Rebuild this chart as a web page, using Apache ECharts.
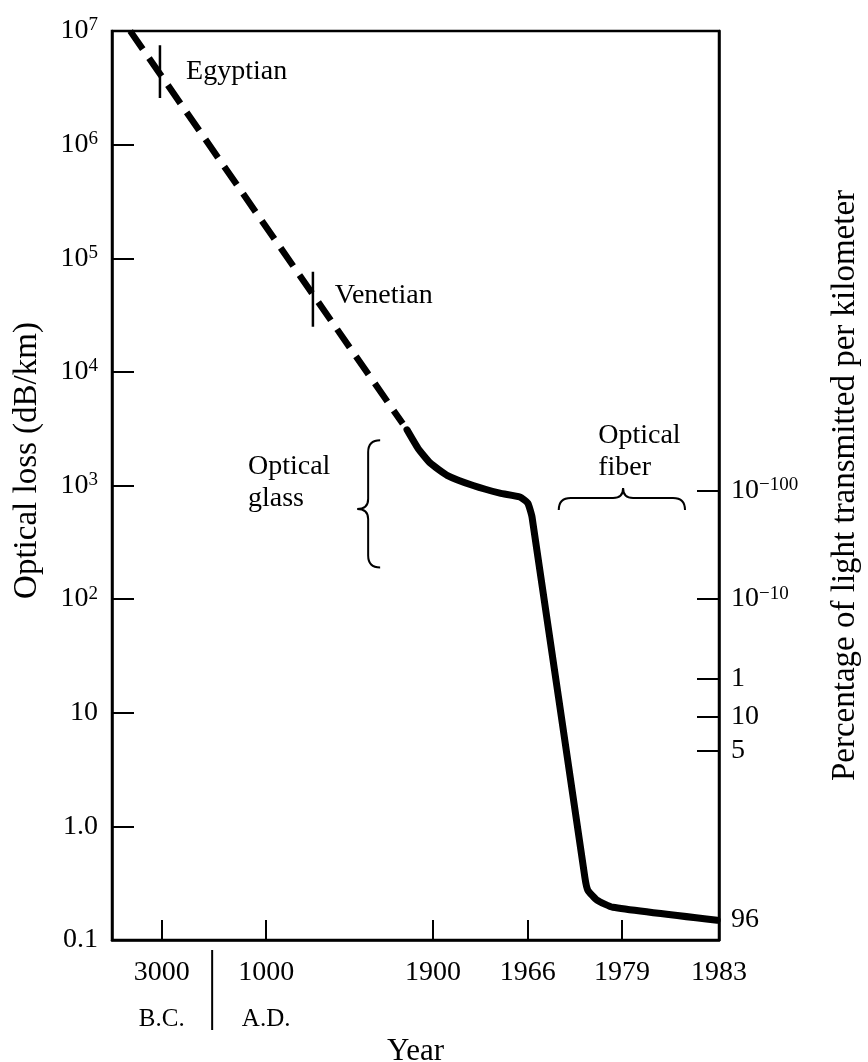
<!DOCTYPE html>
<html>
<head>
<meta charset="utf-8">
<script src="https://cdn.jsdelivr.net/npm/echarts@6/dist/echarts.min.js"></script>
<style>
html, body { margin: 0; background: #fff; }
#chart { width: 868px; height: 1062px; }
</style>
</head>
<body>
<div id="chart"></div>
<script>
// x runs along the (uneven) year axis: 0 = left edge, 100 = 1983
var yearTicks = [8.2, 25.4, 52.9, 68.5, 84.0, 100];
var yearLabels = ['3000', '1000', '1900', '1966', '1979', '1983'];
var eraLabels = ['B.C.', 'A.D.', '', '', '', ''];
var eraSplit = 16.5;

var lossTicks = [1e7, 1e6, 1e5, 1e4, 1e3, 1e2, 10, 1, 0.1];
var lossLabels = ['10^7', '10^6', '10^5', '10^4', '10^3', '10^2', '10', '1.0', '0.1'];

// right axis: % transmitted per km, placed at the matching loss (dB/km)
var transTicks = [900, 100, 20, 9.2, 4.6, 0.15];
var transLabels = ['10^\u2212100', '10^\u221210', '1', '10', '5', '96'];

// early glass (dashed)
var dashX = [3.0, 7.9, 33.1, 47.9];
var dashY = [1e7, 4.2e6, 4.8e4, 3500];

// optical glass then optical fiber (solid)
var solidX = [48.6, 50.4, 52.4, 55.2, 59.5, 63.9, 67.2, 68.5, 69.2, 77.9, 78.4, 79.9, 82.5, 99.7];
var solidY = [3090, 2130, 1580, 1230, 1000, 857, 791, 700, 527, 0.357, 0.274, 0.224, 0.194, 0.149];

// period markers
var egyptX = [7.9, 7.9], egyptY = [7.5e6, 2.57e6];
var venetX = [33.1, 33.1], venetY = [7.6e4, 2.5e4];

// text notes
var noteNames = ['Egyptian', 'Venetian', 'Optical\nglass', 'Optical\nfiber'];
var noteX = [12.2, 36.7, 22.4, 80.1];
var noteY = [4.4e6, 4.7e4, 1070, 1970];

// braces: [spine/left x, right x, top y, bottom y, tip]
var braceGlass = [42.2, 42.2, 2500, 190, 620];
var braceFiber = [73.6, 94.4, 775, 775, 84.2];

var FONT = 'Liberation Serif';

function zip(xs, ys) {
    return xs.map(function (x, i) { return [x, ys[i]]; });
}

function supText(label) {
    var p = label.split('^');
    if (p.length > 1) return '{b|' + p[0] + '}{s|' + p[1] + '}';
    return '{b|' + label + '}';
}

function findIdx(list, v) {
    for (var i = 0; i < list.length; i++) {
        if (Math.abs(Math.log10(list[i]) - Math.log10(v)) < 1e-6) return i;
    }
    return -1;
}

function ink(o) {
    return Object.assign({ fontFamily: FONT, color: '#000' }, o);
}

var richSup = {
    b: ink({ fontSize: 28, lineHeight: 30 }),
    s: ink({ fontSize: 19, verticalAlign: 'top', lineHeight: 19 })
};

var chart = echarts.init(document.getElementById('chart'));

chart.setOption({
    animation: false,
    backgroundColor: '#fff',
    grid: {
        left: 112, right: 149, top: 31, bottom: 122,
        containLabel: false,
        outerBoundsMode: 'none',
        show: true, borderColor: '#000', borderWidth: 2.5, backgroundColor: 'transparent'
    },
    xAxis: {
        type: 'value',
        min: 0,
        max: 100,
        name: 'Year',
        nameLocation: 'middle',
        nameGap: 80,
        nameTextStyle: ink({ fontSize: 31 }),
        axisLine: { lineStyle: { color: '#000', width: 2.5 } },
        axisTick: { inside: true, length: 20, customValues: yearTicks, lineStyle: { color: '#000', width: 2 } },
        axisLabel: {
            customValues: yearTicks,
            margin: 10,
            formatter: function (v) {
                var i = yearTicks.indexOf(v);
                if (i < 0) return '';
                return '{y|' + yearLabels[i] + '}' + (eraLabels[i] ? '\n{e|' + eraLabels[i] + '}' : '');
            },
            rich: {
                y: ink({ fontSize: 28, lineHeight: 46 }),
                e: ink({ fontSize: 25, lineHeight: 46 })
            }
        },
        splitLine: { show: false }
    },
    yAxis: [{
        type: 'log',
        logBase: 10,
        min: 0.1,
        max: 1e7,
        name: 'Optical loss (dB/km)',
        nameLocation: 'middle',
        nameGap: 68,
        nameTextStyle: ink({ fontSize: 33, padding: [0, 0, 0, 50] }),
        axisLine: { show: true, lineStyle: { color: '#000', width: 2.5 } },
        axisTick: { inside: true, length: 22, customValues: lossTicks, lineStyle: { color: '#000', width: 2 } },
        axisLabel: {
            customValues: lossTicks,
            margin: 14,
            formatter: function (v) {
                var i = findIdx(lossTicks, v);
                return i < 0 ? '' : supText(lossLabels[i]);
            },
            rich: richSup
        },
        splitLine: { show: false }
    }, {
        type: 'log',
        logBase: 10,
        min: 0.1,
        max: 1e7,
        position: 'right',
        name: 'Percentage of light transmitted per kilometer',
        nameLocation: 'middle',
        nameGap: 110,
        nameRotate: 90,
        nameTextStyle: ink({ fontSize: 33 }),
        axisLine: { show: true, lineStyle: { color: '#000', width: 2.5 } },
        axisTick: { inside: true, length: 22, customValues: transTicks, lineStyle: { color: '#000', width: 2 } },
        axisLabel: {
            customValues: transTicks,
            margin: 12,
            formatter: function (v) {
                var i = findIdx(transTicks, v);
                return i < 0 ? '' : supText(transLabels[i]);
            },
            rich: richSup
        },
        splitLine: { show: false }
    }],
    series: [{
        name: 'early glass',
        type: 'line',
        data: zip(dashX, dashY),
        symbol: 'none',
        lineStyle: { color: '#000', width: 6.5, type: [22, 11], cap: 'butt' }
    }, {
        name: 'glass and fiber',
        type: 'line',
        data: zip(solidX, solidY),
        symbol: 'none',
        smooth: 0.15,
        lineStyle: { color: '#000', width: 7, join: 'round', cap: 'round' }
    }, {
        name: 'Egyptian mark',
        type: 'line',
        data: zip(egyptX, egyptY),
        symbol: 'none',
        lineStyle: { color: '#000', width: 2.5 }
    }, {
        name: 'Venetian mark',
        type: 'line',
        data: zip(venetX, venetY),
        symbol: 'none',
        lineStyle: { color: '#000', width: 2.5 }
    }, {
        name: 'notes',
        type: 'scatter',
        symbolSize: 0,
        itemStyle: { opacity: 1 },
        data: noteNames.map(function (n, i) { return { name: n, value: [noteX[i], noteY[i]] }; }),
        label: ink({
            show: true,
            position: 'right',
            distance: 0,
            formatter: '{b}',
            fontSize: 28,
            lineHeight: 32,
            align: 'left'
        })
    }, {
        name: 'braces',
        type: 'custom',
        data: [braceGlass.concat([0]), braceFiber.concat([1])],
        renderItem: function (params, api) {
            var horiz = api.value(5) === 1;
            var a = api.coord([api.value(0), api.value(2)]);
            var b = api.coord([api.value(1), api.value(3)]);
            var d;
            if (!horiz) {
                var sx = a[0], y0 = a[1], y1 = b[1];
                var yt = api.coord([api.value(0), api.value(4)])[1];
                d = 'M' + (sx + 12) + ',' + y0 + ' Q' + sx + ',' + y0 + ' ' + sx + ',' + (y0 + 12) +
                    ' L' + sx + ',' + (yt - 10) + ' Q' + sx + ',' + yt + ' ' + (sx - 11) + ',' + yt +
                    ' Q' + sx + ',' + yt + ' ' + sx + ',' + (yt + 10) +
                    ' L' + sx + ',' + (y1 - 12) + ' Q' + sx + ',' + y1 + ' ' + (sx + 12) + ',' + y1;
            } else {
                var x0 = a[0], x1 = b[0], sy = a[1];
                var xt = api.coord([api.value(4), api.value(2)])[0];
                d = 'M' + x0 + ',' + (sy + 12) + ' Q' + x0 + ',' + sy + ' ' + (x0 + 12) + ',' + sy +
                    ' L' + (xt - 10) + ',' + sy + ' Q' + xt + ',' + sy + ' ' + xt + ',' + (sy - 10) +
                    ' Q' + xt + ',' + sy + ' ' + (xt + 10) + ',' + sy +
                    ' L' + (x1 - 12) + ',' + sy + ' Q' + x1 + ',' + sy + ' ' + x1 + ',' + (sy + 12);
            }
            return {
                type: 'path',
                shape: { pathData: d },
                style: { stroke: '#000', fill: null, lineWidth: 2 }
            };
        }
    }, {
        name: 'era split',
        type: 'custom',
        clip: false,
        data: [[eraSplit, 0.1]],
        renderItem: function (params, api) {
            var p = api.coord([api.value(0), api.value(1)]);
            return {
                type: 'line',
                shape: { x1: p[0], y1: p[1] + 10, x2: p[0], y2: p[1] + 90 },
                style: { stroke: '#000', lineWidth: 2 }
            };
        }
    }]
});
</script>
</body>
</html>
